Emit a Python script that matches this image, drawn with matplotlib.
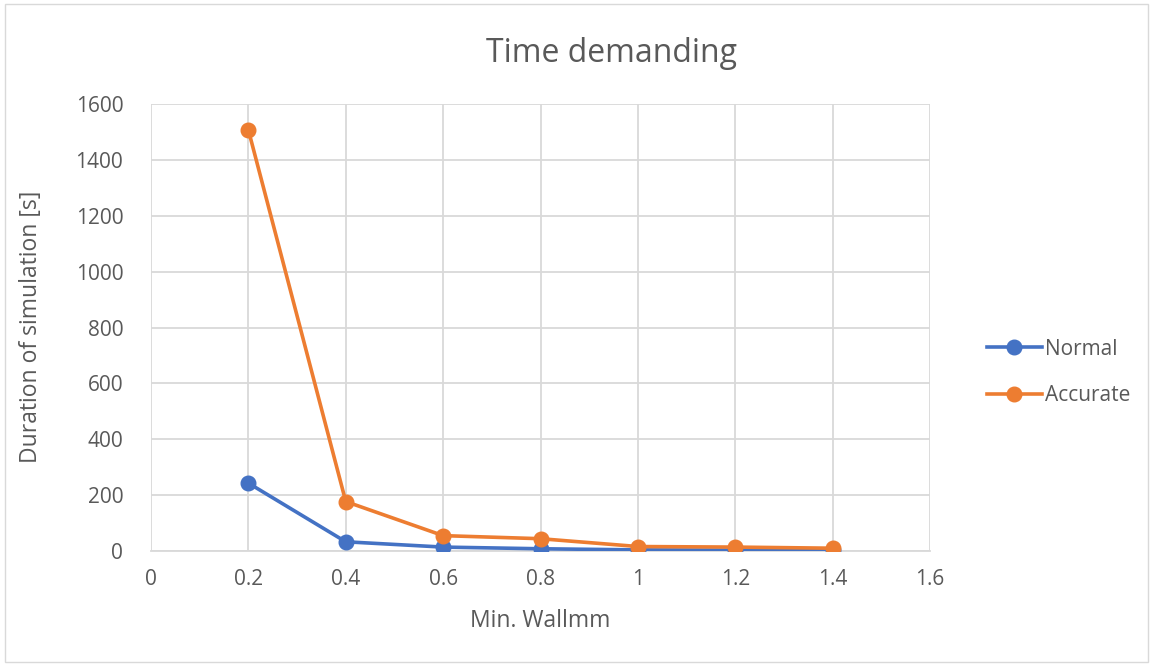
import matplotlib
matplotlib.use("Agg")
import matplotlib.pyplot as plt
from matplotlib.patches import Rectangle

plt.rcParams['font.family'] = ['Open Sans', 'DejaVu Sans']

min_wall = [0.2, 0.4, 0.6, 0.8, 1.0, 1.2, 1.4]
normal = [243, 33, 14, 8, 4, 3, 2]
accurate = [1507, 177, 55, 44, 16, 14, 10]

x_ticks = [0, 0.2, 0.4, 0.6, 0.8, 1, 1.2, 1.4, 1.6]
x_tick_labels = ['0', '0.2', '0.4', '0.6', '0.8', '1', '1.2', '1.4', '1.6']
y_ticks = [0, 200, 400, 600, 800, 1000, 1200, 1400, 1600]

text_color = '#595959'
grid_color = '#D9D9D9'

W, H = 1153, 666
fig = plt.figure(figsize=(W / 100, H / 100), dpi=100)
fig.patches.append(Rectangle((0.004, 0.006), 0.992, 0.988, transform=fig.transFigure,
                             fill=False, edgecolor='#D9D9D9', linewidth=1))
ax = fig.add_axes([151 / W, 1 - 551 / H, (930 - 151) / W, (551 - 104) / H])

ax.plot(min_wall, normal, color='#4472C4', linewidth=2.6, marker='o', markersize=10.5,
        label='Normal', zorder=3)
ax.plot(min_wall, accurate, color='#ED7D31', linewidth=2.6, marker='o', markersize=10.5,
        label='Accurate', zorder=3)

ax.set_xlim(0, 1.6)
ax.set_ylim(0, 1600)
ax.set_xticks(x_ticks)
ax.set_xticklabels(x_tick_labels)
ax.set_yticks(y_ticks)
ax.grid(True, color=grid_color, linewidth=1.3)
ax.set_axisbelow(True)
for side in ['top', 'right', 'left']:
    ax.spines[side].set_visible(False)
ax.spines['bottom'].set_color(grid_color)
ax.spines['bottom'].set_linewidth(1.3)
ax.tick_params(axis='both', length=0, labelsize=15, colors=text_color)
ax.tick_params(axis='y', pad=20)
ax.tick_params(axis='x', pad=13)

fig.text(611 / W, 1 - 53 / H, 'Time demanding', fontsize=23, color=text_color,
         ha='center', va='center')
fig.text(540 / W, 1 - 621 / H, 'Min. Wallmm', fontsize=16.5, color=text_color,
         ha='center', va='center')
fig.text(31 / W, 1 - 327 / H, 'Duration of simulation [s]', fontsize=16.5,
         color=text_color, ha='center', va='center', rotation=90)

leg = ax.legend(loc='center left', bbox_to_anchor=(979 / W, 1 - 372.5 / H),
                bbox_transform=fig.transFigure, frameon=False,
                fontsize=15, labelspacing=1.22, handlelength=2.6, handletextpad=0.15,
                labelcolor=text_color, borderaxespad=0)

fig.savefig('out.png', dpi=100)
